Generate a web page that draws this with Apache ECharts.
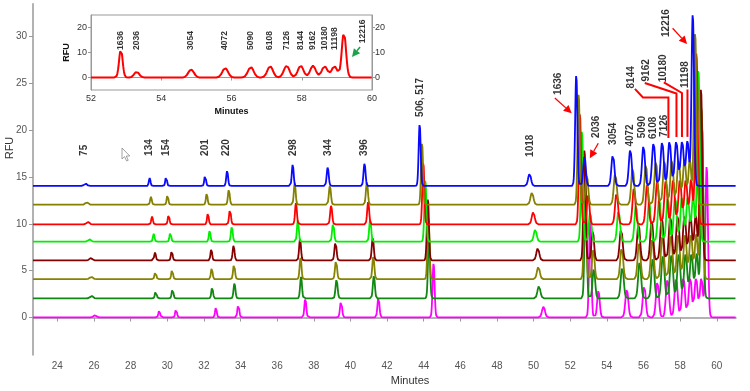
<!DOCTYPE html>
<html><head><meta charset="utf-8">
<script src="https://cdn.jsdelivr.net/npm/echarts@6/dist/echarts.min.js"></script>
<style>html,body{margin:0;padding:0;background:#fff}#c{width:750px;height:391px}</style>
</head><body><div id="c"></div>
<script>
// ---------- main chart data ----------
const xTicks = [24,26,28,30,32,34,36,38,40,42,44,46,48,50,52,54,56,58,60];
const yTicks = [0,5,10,15,20,25,30];

// traces listed top (blue) to bottom (magenta)
const traceColors = ['#0a0aff','#848000','#ff0000','#00ee00','#850000','#868300','#118811','#ff00ff'];
const traceBaselines = [14.05, 12.05, 9.95, 8.1, 6.1, 4.1, 2.05, 0.02];
const shiftEarly = [0, 0.07, 0.13, 0.22, 0.29, 0.31, 0.33, 0.51];   // migration shift (min) near 29 min
const shiftLate  = [0, 0.13, 0.20, 0.31, 0.45, 0.48, 0.51, 0.76];   // migration shift (min) after 41 min
const heightScale = [1, 1, 1, 1, 1, 1, 1, 0.88];

// peaks of the top (blue) trace
const peakSizes   = ['75','134','154','201','220','298','344','396','506, 517','1018','1636','2036','3054','4072','5090','6108','7126','8144','9162','10180','11198','12216'];
const peakTimes   = [25.54, 29.04, 29.94, 32.07, 33.27, 36.85, 38.76, 40.77, 43.78, 49.78, 52.33, 52.78, 54.33, 55.28, 56.00, 56.55, 57.02, 57.42, 57.79, 58.11, 58.40, 58.69];
const peakHeights = [0.25, 0.85, 1.05, 1.2, 1.6, 2.3, 2.0, 2.4, 6.6, 1.3, 11.9, 3.2, 3.4, 3.9, 4.3, 4.6, 4.7, 4.8, 4.8, 4.8, 4.8, 18.4];
const peakWidths  = [0.08, 0.045, 0.045, 0.045, 0.05, 0.05, 0.055, 0.055, 0.055, 0.08, 0.06, 0.07, 0.08, 0.08, 0.08, 0.085, 0.085, 0.085, 0.085, 0.085, 0.08, 0.07];

// peak labels (minutes, RFU of label bottom)
const labelTexts = ['75','134','154','201','220','298','344','396','506, 517','1018','1636','2036','3054','4072','5090','6108','7126','8144','9162','10180','11198','12216'];
const labelT = [25.45, 29.04, 29.97, 32.10, 33.24, 36.88, 38.79, 40.75, 43.79, 49.80, 51.34, 53.44, 54.35, 55.26, 55.95, 56.51, 57.11, 55.31, 56.13, 57.08, 58.26, 57.22];
const labelV = [17.26, 17.26, 17.26, 17.26, 17.26, 17.26, 17.26, 17.26, 21.42, 17.15, 23.77, 19.18, 18.43, 18.25, 19.15, 19.07, 19.29, 24.46, 25.21, 25.12, 24.51, 29.96];

// ---------- inset data ----------
const insetTicksY = [0,10,20];
const insetPeakTimes   = [52.85, 53.30, 54.85, 55.82, 56.55, 57.10, 57.57, 57.97, 58.32, 58.65, 58.93, 59.20];
const insetPeakHeights = [11.3, 2.3, 3.2, 3.8, 4.2, 4.5, 4.7, 4.7, 4.7, 4.5, 4.5, 18.0];
const insetPeakWidths  = [0.05, 0.07, 0.08, 0.08, 0.08, 0.08, 0.08, 0.08, 0.08, 0.08, 0.08, 0.06];
const insetLabels = ['1636','2036','3054','4072','5090','6108','7126','8144','9162','10180','11198','12216'];
const insetLabelT = [52.85, 53.30, 54.84, 55.81, 56.54, 57.08, 57.56, 57.97, 58.32, 58.65, 58.93, 59.73];
const insetLabelV = [11, 11, 11, 11, 11, 11, 11, 11, 11, 11, 11, 13.7];

// ---------- annotations (data coordinates) ----------
const redArrows = [ [[51.16,23.45],[52.08,21.81]], [[53.53,18.61],[53.07,17.01]], [[57.59,30.89],[58.38,29.21]] ];
const redConnectors = [
  [[55.53,24.41],[55.97,23.50],[57.36,23.50],[57.36,19.18]],
  [[56.07,25.05],[57.80,23.93],[57.80,19.29]],
  [[57.11,25.10],[58.10,23.98],[58.10,19.29]],
  [[58.40,24.35],[58.40,19.29]]
];
const greenArrow = [[59.66,12.2],[59.43,8.2]];

const X_MIN = 22.67, X_MAX = 61.05, Y_MIN = -4, Y_MAX = 33.5;
const FONT = "'Liberation Sans', Arial, sans-serif";

function traceData(k) {
  const out = [];
  for (let i = 0; ; i++) {
    const t = X_MIN + i * 0.01;
    if (t > X_MAX) break;
    const f = Math.min(1, Math.max(0, (t - 29) / 12));
    const sh = shiftEarly[k] + (shiftLate[k] - shiftEarly[k]) * f;
    let v = traceBaselines[k];
    for (let j = 0; j < peakTimes.length; j++) {
      const d = t - (peakTimes[j] + sh);
      const s = peakWidths[j];
      if (Math.abs(d) < 6 * s) v += peakHeights[j] * heightScale[k] * Math.exp(-d * d / (2 * s * s));
    }
    out.push([+t.toFixed(3), +v.toFixed(3)]);
  }
  return out;
}
function insetData() {
  const out = [];
  for (let i = 0; i <= 800; i++) {
    const t = 52 + i * 0.01;
    let v = 0;
    for (let j = 0; j < insetPeakTimes.length; j++) {
      const d = t - insetPeakTimes[j], s = insetPeakWidths[j];
      if (Math.abs(d) < 6 * s) v += insetPeakHeights[j] * Math.exp(-d * d / (2 * s * s));
    }
    out.push([+t.toFixed(3), +v.toFixed(3)]);
  }
  return out;
}

const chart = echarts.init(document.getElementById('c'), null, {renderer: 'canvas'});
const series = [];
for (let k = traceColors.length - 1; k >= 0; k--) {
  series.push({type: 'line', xAxisIndex: 0, yAxisIndex: 0, data: traceData(k), showSymbol: false, symbol: 'none',
    lineStyle: {color: traceColors[k], width: 1.8}, silent: true, animation: false, z: 2});
}
series.push({type: 'scatter', xAxisIndex: 0, yAxisIndex: 0, symbolSize: 0, silent: true, animation: false, z: 5,
  data: labelTexts.map((s, i) => [labelT[i], labelV[i], s]),
  label: {show: true, position: 'inside', rotate: 90, align: 'left', verticalAlign: 'middle',
    formatter: p => p.data[2], color: '#000', fontWeight: 'bold', fontSize: 10, fontFamily: FONT}});
series.push({type: 'line', xAxisIndex: 1, yAxisIndex: 1, data: insetData(), showSymbol: false, symbol: 'none',
  lineStyle: {color: '#ff0000', width: 2}, silent: true, animation: false, z: 12});
series.push({type: 'scatter', xAxisIndex: 1, yAxisIndex: 1, symbolSize: 0, silent: true, animation: false, z: 12,
  data: insetLabels.map((s, i) => [insetLabelT[i], insetLabelV[i], s]),
  label: {show: true, position: 'inside', rotate: 90, align: 'left', verticalAlign: 'middle',
    formatter: p => p.data[2], color: '#000', fontWeight: 'bold', fontSize: 8.5, fontFamily: FONT}});

const axisGray = '#999';
chart.setOption({
  animation: false,
  backgroundColor: '#fff',
  grid: [
    {left: 33, right: 14, top: 3.8, bottom: 36},
    {left: 91, top: 15, width: 281, height: 75, show: true, backgroundColor: '#fff', borderColor: axisGray, borderWidth: 1, z: 10}
  ],
  xAxis: [
    {type: 'value', gridIndex: 0, min: X_MIN, max: X_MAX,
      axisLine: {show: true, lineStyle: {color: axisGray, width: 1.5}},
      axisTick: {show: true, length: 4, lineStyle: {color: axisGray}, customValues: xTicks},
      axisLabel: {color: '#555', fontSize: 10, fontFamily: FONT, margin: 6, customValues: xTicks},
      splitLine: {show: false}},
    {type: 'value', gridIndex: 1, min: 52, max: 60, interval: 2, z: 11,
      axisLine: {show: true, lineStyle: {color: axisGray}},
      axisTick: {show: true, length: 3, lineStyle: {color: axisGray}},
      axisLabel: {color: '#333', fontSize: 9, fontFamily: FONT, margin: 4},
      splitLine: {show: false},
      name: 'Minutes', nameLocation: 'middle', nameGap: 17,
      nameTextStyle: {color: '#111', fontWeight: 'bold', fontSize: 9, fontFamily: FONT}}
  ],
  yAxis: [
    {type: 'value', gridIndex: 0, min: Y_MIN, max: Y_MAX,
      axisLine: {show: true, lineStyle: {color: axisGray, width: 1.5}},
      axisTick: {show: true, length: 4, lineStyle: {color: axisGray}, customValues: yTicks},
      axisLabel: {color: '#555', fontSize: 10, fontFamily: FONT, margin: 6, customValues: yTicks},
      splitLine: {show: false}},
    {type: 'value', gridIndex: 1, min: -5, max: 25, z: 11,
      axisLine: {show: true, lineStyle: {color: axisGray}},
      axisTick: {show: true, length: 3, lineStyle: {color: axisGray}, customValues: insetTicksY},
      axisLabel: {color: '#333', fontSize: 9, fontFamily: FONT, margin: 4, customValues: insetTicksY},
      splitLine: {show: false},
      name: 'RFU', nameLocation: 'middle', nameGap: 20,
      nameTextStyle: {color: '#111', fontWeight: 'bold', fontSize: 9, fontFamily: FONT}},
    {type: 'value', gridIndex: 1, min: -5, max: 25, position: 'right', z: 11,
      axisLine: {show: true, lineStyle: {color: axisGray}},
      axisTick: {show: true, length: 3, lineStyle: {color: axisGray}, customValues: insetTicksY},
      axisLabel: {color: '#333', fontSize: 9, fontFamily: FONT, margin: 3, customValues: insetTicksY},
      splitLine: {show: false}}
  ],
  series: series
});

// ---------- annotation graphics ----------
function px(p, g) { return chart.convertToPixel({gridIndex: g}, p); }
function arrow(p1, p2, color, w) {
  const dx = p2[0] - p1[0], dy = p2[1] - p1[1];
  const L = Math.sqrt(dx * dx + dy * dy), ux = dx / L, uy = dy / L;
  const hl = 8, hw = 4;
  const bx = p2[0] - ux * hl, by = p2[1] - uy * hl;
  return [
    {type: 'line', shape: {x1: p1[0], y1: p1[1], x2: bx, y2: by}, style: {stroke: color, lineWidth: w}, z: 20, silent: true},
    {type: 'polygon', shape: {points: [[p2[0], p2[1]], [bx - uy * hw, by + ux * hw], [bx + uy * hw, by - ux * hw]]},
      style: {fill: color}, z: 20, silent: true}
  ];
}
const gr = [];
redArrows.forEach(a => gr.push(...arrow(px(a[0], 0), px(a[1], 0), '#ff0000', 1.3)));
redConnectors.forEach(c => gr.push({type: 'polyline', shape: {points: c.map(p => px(p, 0))},
  style: {stroke: '#ff0000', lineWidth: 2, fill: null}, z: 20, silent: true}));
gr.push(...arrow(px(greenArrow[0], 1), px(greenArrow[1], 1), '#1aa34a', 1.5));
gr.push({type: 'text', x: 410, y: 381, style: {text: 'Minutes', fill: '#333', font: '11px ' + FONT, textAlign: 'center', textVerticalAlign: 'middle'}, z: 20, silent: true});
gr.push({type: 'text', x: 10, y: 148, rotation: Math.PI / 2, style: {text: 'RFU', fill: '#333', font: '11px ' + FONT, textAlign: 'center', textVerticalAlign: 'middle'}, z: 20, silent: true});
// mouse pointer visible in the screenshot
gr.push({type: 'polygon', x: 122, y: 148, shape: {points: [[0,0],[0,11],[2.6,8.6],[4.6,13],[6.2,12.3],[4.3,8],[7.8,8]]},
  style: {fill: '#fff', stroke: '#8a8a8a', lineWidth: 0.8}, z: 20, silent: true});
chart.setOption({graphic: gr});
</script>
</body></html>
